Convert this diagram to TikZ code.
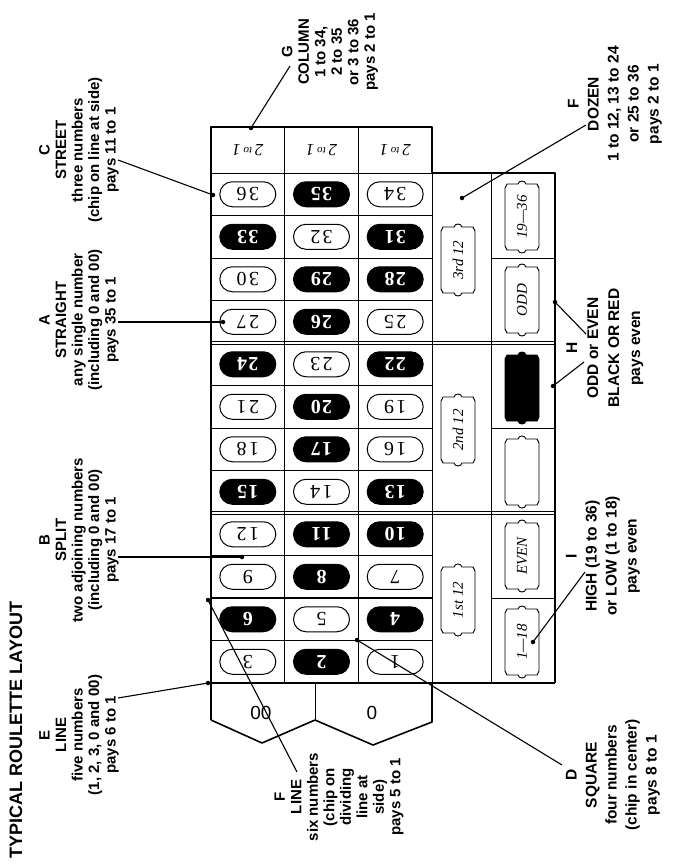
\documentclass[tikz,border=0pt]{standalone}
\usepackage{fontspec}
\setmainfont{Liberation Serif}
\setsansfont{Liberation Sans}
\begin{document}
\begin{tikzpicture}[x=1pt,y=-1pt,
  lbl/.style={font=\sffamily\bfseries\fontsize{15}{16.5}\selectfont, align=center, rotate=90, inner sep=0pt},
  gridline/.style={line width=0.9pt},
  outerline/.style={line width=1.6pt, line join=round},
  chipw/.style={draw, line width=1pt, rounded corners=12.5pt, minimum width=56pt, minimum height=25pt, inner sep=0pt, rotate=180, fill=white, font=\fontsize{20}{20}\selectfont\addfontfeatures{LetterSpace=12}},
  chipb/.style={chipw, fill=black, text=white, font=\bfseries\fontsize{20}{20}\selectfont\addfontfeatures{LetterSpace=6}},
  ptrline/.style={line width=1.1pt},
  dotend/.style={circle, fill=black, inner sep=0pt, minimum size=4.5pt},
  boxtxt/.style={rotate=90, font=\itshape\fontsize{15}{15}\selectfont, inner sep=0pt},
  twoto/.style={rotate=180, font=\itshape\fontsize{17}{17}\selectfont, inner sep=0pt},
  zero/.style={font=\sffamily\fontsize{19}{19}\selectfont, inner sep=0pt},
  scrollbox/.pic={\path[draw, line width=0.9pt, pic actions] (-17,-29) -- (-17,29) -- (-15,33) -- (-4,33) .. controls (-3,37) and (3,37) .. (4,33) -- (15,33) -- (17,29) -- (17,-29) -- (15,-33) -- (4,-33) .. controls (3,-37) and (-3,-37) .. (-4,-33) -- (-15,-33) -- cycle;}
]
\useasboundingbox[fill=white] (0,0) rectangle (680,868);

% ---- grid lines ----
\foreach \k in {0,1,2,3,5,6,7,9,10,11}{
  \draw[gridline] (211,{173+\k*42.5}) -- (432,{173+\k*42.5});
}
\draw[line width=1.3pt] (211,598) -- (432,598);
\foreach \yy in {341.5,344.5,511.5,514.5}{
  \draw[line width=0.8pt] (211,\yy) -- (555,\yy);
}
\foreach \yy in {258,428,598}{
  \draw[gridline] (491,\yy) -- (555,\yy);
}
\draw[gridline] (284.7,127) -- (284.7,683);
\draw[gridline] (358.3,127) -- (358.3,683);
\draw[gridline] (432,173) -- (432,683);
\draw[gridline] (491,173) -- (491,683);
\draw[gridline] (315,683) -- (315,720);
\draw[line width=1.2pt] (211,683) -- (555,683);
\draw[outerline] (211,720) -- (211,127) -- (432,127) -- (432,173) -- (555,173) -- (555,683);
\draw[outerline] (211,720) -- (262,743) -- (315,720) -- (373,745) -- (432,722) -- (432,683);

% ---- 2 to 1 ----
\foreach \xx/\nm in {247.8/a,321.5/b,395.2/c}{
  \node[twoto] (col\nm) at (\xx,150) {2\,\raisebox{3pt}{\fontsize{11}{11}\selectfont to}\,1};
}

% ---- numbers ----
\foreach \k/\a/\sa/\b/\sb/\c/\sc in {
  1/36/w/35/b/34/w, 2/33/b/32/w/31/b, 3/30/w/29/b/28/b, 4/27/w/26/b/25/w,
  5/24/b/23/w/22/b, 6/21/w/20/b/19/w, 7/18/w/17/b/16/w, 8/15/b/14/w/13/b,
  9/12/w/11/b/10/b, 10/9/w/8/b/7/w, 11/6/b/5/w/4/b, 12/3/w/2/b/1/w}{
  \node[chip\sa] (n\a) at (247.8,{173+(\k-0.5)*42.5}) {\a};
  \node[chip\sb] (n\b) at (321.5,{173+(\k-0.5)*42.5}) {\b};
  \node[chip\sc] (n\c) at (395.2,{173+(\k-0.5)*42.5}) {\c};
}

% ---- zero boxes ----
\node[zero] (z00) at (261,713) {00};
\node[zero] (z0) at (372,713) {0};

% ---- dozens ----
\pic at (458,260) {scrollbox};
\pic at (458,430) {scrollbox};
\pic at (458,600) {scrollbox};
\node[boxtxt] (d3) at (458,260) {3rd 12};
\node[boxtxt] (d2) at (458,430) {2nd 12};
\node[boxtxt] (d1) at (458,600) {1st 12};

% ---- even money ----
\pic at (522,217) {scrollbox};
\pic at (522,300) {scrollbox};
\pic[fill=black] at (522,388) {scrollbox};
\pic at (522,472) {scrollbox};
\pic at (522,556) {scrollbox};
\pic at (522,642) {scrollbox};
\node[boxtxt] (hi) at (522,217) {19—36};
\node[boxtxt] (odd) at (522,300) {ODD};
\node[boxtxt] (even) at (522,556) {EVEN};
\node[boxtxt] (lo) at (522,642) {1—18};

% ---- labels ----
\node[lbl, font=\sffamily\bfseries\fontsize{18}{20}\selectfont] (title) at (16,730) {TYPICAL ROULETTE LAYOUT};
\node[lbl] (labC) at (79,150) {C\\STREET\\three numbers\\(chip on line at side)\\pays 11 to 1};
\node[lbl] (labA) at (79,320) {A\\STRAIGHT\\any single number\\(including 0 and 00)\\pays 35 to 1};
\node[lbl] (labB) at (79,540) {B\\SPLIT\\two adjoining numbers\\(including 0 and 00)\\pays 17 to 1};
\node[lbl] (labE) at (79,735) {E\\LINE\\five numbers\\(1, 2, 3, 0 and 00)\\pays 6 to 1};
\node[lbl] (labG) at (330,52) {G\\COLUMN\\1 to 34,\\2 to 35\\or 3 to 36\\pays 2 to 1};
\node[lbl, font=\sffamily\bfseries\fontsize{15.5}{20}\selectfont] (labFd) at (615,104) {F\\DOZEN\\1 to 12, 13 to 24\\or 25 to 36\\pays 2 to 1};
\node[lbl, font=\sffamily\bfseries\fontsize{15.5}{21}\selectfont] (labH) at (605,348) {H\\ODD or EVEN\\BLACK OR RED\\pays even};
\node[lbl, font=\sffamily\bfseries\fontsize{15.5}{20}\selectfont] (labI) at (603,556) {I\\HIGH (19 to 36)\\or LOW (1 to 18)\\pays even};
\node[lbl, font=\sffamily\bfseries\fontsize{15.5}{20}\selectfont] (labD) at (613,775) {D\\SQUARE\\four numbers\\(chip in center)\\pays 8 to 1};
\node[lbl] (labFl) at (339,797) {F\\LINE\\six numbers\\(chip on\\dividing\\line at\\side)\\pays 5 to 1};

% ---- pointers ----
\coordinate (pC0) at (118,160);  \coordinate (pC1) at (213,195);
\coordinate (pA0) at (118,322);  \coordinate (pA1) at (223,322);
\coordinate (pB0) at (118,557);  \coordinate (pB1) at (242,557);
\coordinate (pE0) at (118,698);  \coordinate (pE1) at (208,683);
\coordinate (pG0) at (290,66);   \coordinate (pG1) at (251,128);
\coordinate (pF0) at (586,125);  \coordinate (pF1) at (462,198);
\coordinate (pH0) at (586,334);  \coordinate (pH1) at (555,302);
\coordinate (pK0) at (584,362);  \coordinate (pK1) at (553,386);
\coordinate (pI0) at (585,572);  \coordinate (pI1) at (533,642);
\coordinate (pD0) at (562,765);  \coordinate (pD1) at (357,640);
\coordinate (pL0) at (297,772);  \coordinate (pL1) at (208,600);
\foreach \p in {C,A,B,E,G,F,H,K,I,D,L}{
  \draw[ptrline] (p\p0) -- (p\p1);
  \node[dotend] (dot\p) at (p\p1) {};
}
\end{tikzpicture}
\end{document}
